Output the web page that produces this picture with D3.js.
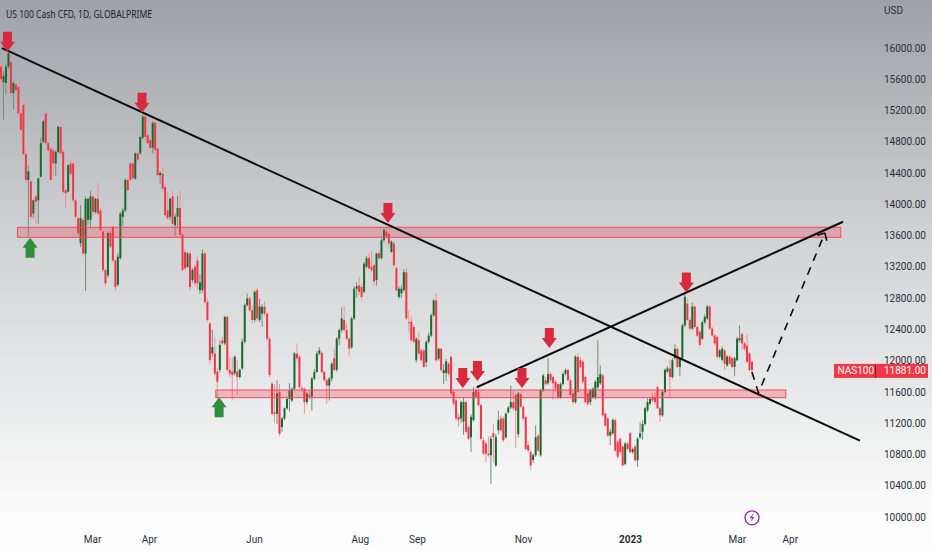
<!DOCTYPE html>
<html>
<head>
<meta charset="utf-8">
<script src="https://cdn.jsdelivr.net/npm/d3@7"></script>
<style>
  html, body { margin: 0; padding: 0; background: #fff; }
  svg { display: block; }
  text { font-family: Roboto, "Liberation Sans", sans-serif; }
</style>
</head>
<body>
<div id="chart"></div>
<script>
// daily candles
var opens = [
  15760,15560,15550,15760,15820,15420,15530,15500,15160,15270,
  14640,14310,14290,13880,14100,14050,14350,14800,15160,14780,
  14710,14690,14520,14670,14990,14670,14180,14160,14520,14520,
  14050,13820,13500,13800,13370,13800,13800,14100,13900,14070,
  13920,13650,13160,13090,13630,13710,13280,12970,13310,13840,
  13920,14310,14520,14520,14330,14650,14650,14850,15120,14880,
  14820,14720,15040,14710,14370,14390,14220,13920,13840,14100,
  13730,13840,13950,13610,13390,13200,13370,13030,13200,13280,
  12900,12900,13370,12750,12475,12090,12090,11860,11880,12260,
  12220,12560,11880,11860,11835,11860,11790,11900,12240,12710,
  12795,12645,12520,12900,12520,12600,12690,12600,12280,11705,
  11340,11320,11600,11150,11260,11390,11510,11490,11640,12090,
  12050,11650,11640,11470,11560,11540,11770,11855,12090,12100,
  11855,11750,11680,11770,12030,11880,12280,12390,12520,12390,
  12280,12170,12540,12920,12960,12940,12880,13200,13310,13200,
  13220,13030,13370,13310,13540,13650,13620,13390,13500,13180,
  12815,12860,12900,13130,12490,12500,12430,12005,12260,12130,
  12130,11980,12240,12320,12580,12770,12025,12150,11840,11840,
  11960,12050,11600,11490,11280,11260,11220,11470,11150,11020,
  11240,11620,11600,11430,10980,10940,10810,10790,11070,10660,
  11110,11260,11260,11020,11340,11400,11470,11560,11060,11570,
  11410,11280,10920,10830,10730,10790,11040,10790,11620,11750,
  11710,11830,11790,11730,11700,11530,11700,11830,11880,11750,
  11580,11470,12050,12005,11985,11790,11580,11470,11530,11530,
  11660,11710,11810,11320,11260,11040,11070,11240,10960,11000,
  10900,10680,10940,11070,10830,10900,10725,11020,11090,11190,
  11365,11450,11530,11530,11660,11390,11300,11600,11860,11900,
  11790,12030,12150,11920,12030,12450,12730,12520,12410,12690,
  12430,12370,12280,12490,12540,12690,12410,12320,12300,12050,
  12010,12130,11940,12050,12030,11920,12005,12260,12340,12220,
  12190,12090,11985
];
var closes = [
  15600,15640,15760,15930,15420,15550,15460,15160,14950,14640,
  14310,14420,13840,14050,14030,14330,14780,15060,14780,14690,
  14310,14520,14670,14990,14650,14160,14140,14500,14390,14050,
  13840,13630,13820,13370,14070,14070,14100,13900,14070,13880,
  13670,13160,12990,13630,13460,13280,12940,13330,13880,13920,
  14310,14180,14310,14330,14650,14570,14860,15120,14860,14780,
  14720,15040,14690,14370,14400,14200,13860,13820,14070,13750,
  13840,13950,13610,13160,13180,13370,12940,13160,12990,12990,
  13000,13370,12750,12520,12005,12175,11835,11730,12200,12220,
  12560,11880,11835,11815,12050,11790,11880,12240,12710,12795,
  12645,12520,12880,12540,12690,12690,12600,12280,11815,11320,
  11320,11580,11065,11260,11390,11510,11620,11640,12090,12030,
  11660,11640,11470,11580,11540,11770,11855,12090,12130,11855,
  11750,11680,11770,11960,11880,12280,12390,12540,12390,12280,
  12155,12540,12920,12950,12880,12815,13240,13310,13180,13160,
  13010,13370,13310,13540,13670,13590,13500,13520,13220,12900,
  12920,12920,13130,12540,12480,12260,12240,12280,12090,12005,
  11920,12240,12320,12580,12770,12005,12150,11880,11880,11990,
  11830,11580,11450,11260,11240,11470,11470,11090,11000,11280,
  11600,11540,11430,11000,10810,10810,10790,11000,11020,11020,
  11240,11110,10980,11320,11400,11470,11390,11360,11580,11410,
  11260,10870,10850,10660,10790,11020,10850,11620,11810,11700,
  11830,11750,11710,11640,11530,11700,11830,11880,11750,11560,
  11470,12050,11600,11920,11730,11470,11450,11620,11640,11730,
  11790,11830,11300,11170,11040,11090,11240,10850,10770,10830,
  10660,10940,10870,10830,10870,10725,11000,11070,11190,11390,
  11470,11510,11490,11470,11390,11300,11600,11880,11900,11790,
  12005,12150,11920,12030,12450,12815,12520,12410,12690,12430,
  12320,12200,12490,12560,12690,12410,12320,12220,12050,12130,
  12150,11960,12050,11960,11920,12030,12280,12290,12220,12150,
  11985,11880,11881
];
var highs = [
  15800,15700,15800,15990,15960,15570,15550,15520,15200,15290,
  14700,14500,14310,14060,14130,14340,14850,15080,15190,14800,
  14730,14720,14690,15000,15000,14700,14200,14510,14570,14540,
  14080,13840,13990,13830,14100,14080,14170,14120,14080,14280,
  13950,13670,13170,13650,13670,13730,13300,13370,13900,13950,
  14330,14330,14540,14540,14660,14670,14870,15150,15140,14900,
  14840,15060,15060,14730,14420,14480,14240,14150,14080,14180,
  13880,14110,14180,13630,13420,13390,13390,13180,13230,13330,
  13110,13420,13400,12790,12500,12390,12300,11900,12260,12300,
  12570,12570,12050,12040,12070,12000,11900,12280,12730,12860,
  12820,12700,12900,12930,12790,12720,12760,12620,12300,11730,
  11700,11750,11700,11280,11400,11530,11710,11660,12110,12220,
  12070,11680,11660,11600,11620,11790,11890,12120,12170,12120,
  11870,11770,11790,11980,12150,12300,12410,12680,12700,12470,
  12300,12560,12950,13000,13070,12970,13260,13340,13370,13400,
  13240,13380,13400,13560,13690,13700,13640,13540,13530,13200,
  12950,12960,13170,13180,12640,12560,12460,12300,12360,12150,
  12150,12260,12360,12600,12790,12860,12170,12170,11960,12020,
  11980,12060,11620,11510,11320,11490,11530,11490,11180,11310,
  11660,11650,11660,11450,11020,10960,11030,11040,11190,11060,
  11360,11300,11280,11340,11420,11680,11610,11580,11600,11590,
  11430,11300,10970,10850,10810,11170,11060,11640,11830,11790,
  12030,11850,11810,11750,11720,11720,11850,11900,11900,11770,
  11600,12070,12100,12050,12010,11810,11600,11640,11660,11750,
  12260,11940,11830,11340,11280,11130,11260,11260,10980,11020,
  10920,10960,10960,11090,10890,10920,11020,11210,11240,11410,
  11520,11530,11580,11590,11680,11410,11620,11900,11930,12010,
  12030,12210,12170,12050,12470,12880,12800,12540,12740,12710,
  12450,12390,12510,12590,12710,12710,12430,12340,12320,12150,
  12180,12150,12070,12070,12050,12050,12300,12450,12360,12240,
  12330,12110,12000
];
var lows = [
  15500,15080,15400,15720,15400,15210,15450,15120,14930,14620,
  14280,13590,13800,13820,13750,13750,14340,14780,14750,14650,
  14300,14350,14360,14640,14620,14130,13950,14150,14370,14030,
  13820,13600,13450,13350,12890,13730,13710,13850,13880,13860,
  13650,13130,12950,13060,13440,13260,12890,12950,13290,13720,
  13900,14160,14290,14320,14310,14540,14630,14830,14820,14750,
  14700,14650,14640,14350,14260,14170,13840,13800,13800,13720,
  13590,13700,13590,13140,13160,13180,12900,13000,12950,12900,
  12850,12870,12720,12500,11950,12050,11810,11520,11850,12200,
  12200,11860,11790,11490,11810,11560,11770,11880,12220,12690,
  12620,12470,12490,12500,12490,12430,12570,12260,11790,11300,
  11200,11190,11030,11090,11240,11370,11350,11470,11620,12000,
  11640,11600,11320,11440,11500,11360,11750,11840,12070,11830,
  11730,11450,11490,11730,11860,11860,12200,12360,12370,12260,
  12050,12150,12520,12810,12840,12790,12860,13180,13160,13130,
  12960,12960,13290,13290,13520,13560,13460,13380,13200,12880,
  12790,12800,12880,12520,12360,12240,12220,11980,12070,11990,
  11910,11920,12220,12300,12560,11980,12000,11860,11700,11740,
  11800,11560,11430,11230,11160,11200,11050,11070,10980,10830,
  11220,11520,11410,10980,10790,10700,10770,10425,10700,10640,
  11060,11090,10960,11000,11320,11380,11360,10880,11020,11390,
  11240,10850,10830,10600,10690,10770,10830,10770,11600,11680,
  11690,11730,11500,11620,11510,11510,11680,11810,11730,11540,
  11440,11450,11590,11900,11700,11450,11420,11430,11510,11500,
  11640,11690,11280,11150,11020,10920,11050,10830,10750,10810,
  10650,10660,10850,10810,10810,10700,10640,11000,10990,11170,
  11340,11430,11470,11440,11380,11220,11280,11580,11840,11530,
  11770,12010,11900,11800,12010,12430,12500,12390,12390,12410,
  12300,12180,12260,12470,12520,12390,12300,12200,12030,12030,
  11990,11880,11920,11940,11900,11800,11990,12230,12140,12130,
  11970,11860,11790
];

// axis labels
var priceTicks = [10000,10400,10800,11200,11600,12000,12400,12800,13200,13600,14000,14400,14800,15200,15600,16000];
var timeLabels = ["Mar","Apr","Jun","Aug","Sep","Nov","2023","Mar","Apr"];
var timeBars = [36.6,59.5,101.7,144.3,167.3,209.9,252.9,295.9,317.2];

// drawings on the chart, as [bar, price]
var fallingLine = [[0.4,15995],[345.4,10976]];
var risingLine = [[191.3,11659],[338.6,13776]];
var dashedPath = [[302,11854],[304.6,11586],[331.3,13632]];
var dashedHeadA = [[331.3,13632],[332.5,13478]];
var dashedHeadB = [[331.3,13632],[327.3,13593]];
var zoneTop = {from: 6.6, to: 337.7, high: 13705, low: 13577};
var zoneBottom = {from: 86.4, to: 315.6, high: 11624, low: 11526};
var downArrows = [[2.6,15950],[56.7,15170],[155.6,13760],[185.7,11650],[191.6,11740],[209.5,11650],[220.5,12160],[275.6,12870]];
var upArrows = [[11.7,13570],[87.7,11530]];
var lastPrice = 11881;

var width = 932, height = 550;
var svg = d3.select("#chart").append("svg")
  .attr("width", width)
  .attr("height", height);

var x = d3.scaleLinear().domain([0, opens.length - 1]).range([1, 752]);
var y = d3.scaleLinear().domain([10000, 16000]).range([517, 47.8]);

// background fades from grey to white
var grad = svg.append("defs").append("linearGradient")
  .attr("id", "bg").attr("x1", 0).attr("y1", 0).attr("x2", 0).attr("y2", 1);
grad.append("stop").attr("offset", "0%").attr("stop-color", "#9ea1a6");
grad.append("stop").attr("offset", "45%").attr("stop-color", "#cfd1d3");
grad.append("stop").attr("offset", "100%").attr("stop-color", "#fbfbfb");
svg.append("rect").attr("width", width).attr("height", 512).attr("fill", "url(#bg)");
svg.append("rect").attr("y", 512).attr("width", width).attr("height", height - 512).attr("fill", "#fdfdfd");

var red = "#f23645", green = "#17692f";

// wicks then bodies
var candles = svg.append("g").selectAll("g").data(opens).enter().append("g");
candles.append("line")
  .attr("x1", function(d, i) { return x(i); })
  .attr("x2", function(d, i) { return x(i); })
  .attr("y1", function(d, i) { return y(highs[i]); })
  .attr("y2", function(d, i) { return y(lows[i]); })
  .attr("stroke", function(d, i) { return closes[i] >= d ? "#6f8f78" : "#f2909a"; })
  .attr("stroke-width", 1);
candles.append("rect")
  .attr("x", function(d, i) { return x(i) - 1; })
  .attr("width", 2)
  .attr("y", function(d, i) { return y(Math.max(d, closes[i])); })
  .attr("height", function(d, i) { return Math.max(1, Math.abs(y(d) - y(closes[i]))); })
  .attr("fill", function(d, i) { return closes[i] >= d ? green : red; });

// support and resistance zones
[zoneTop, zoneBottom].forEach(function(z) {
  svg.append("rect")
    .attr("x", x(z.from))
    .attr("y", y(z.high))
    .attr("width", x(z.to) - x(z.from))
    .attr("height", y(z.low) - y(z.high))
    .attr("fill", "rgba(245,50,70,0.27)")
    .attr("stroke", "#ef4a58")
    .attr("stroke-width", 1);
});

var line = d3.line()
  .x(function(d) { return x(d[0]); })
  .y(function(d) { return y(d[1]); });

[fallingLine, risingLine].forEach(function(pts) {
  svg.append("path").attr("d", line(pts))
    .attr("fill", "none").attr("stroke", "#0a0a0a").attr("stroke-width", 2);
});
[dashedPath, dashedHeadA, dashedHeadB].forEach(function(pts) {
  svg.append("path").attr("d", line(pts))
    .attr("fill", "none").attr("stroke", "#0a0a0a").attr("stroke-width", 1.6)
    .attr("stroke-dasharray", "8,7");
});

// arrows hang from their tip
function arrowShape(dir) {
  var p = d3.path();
  p.moveTo(0, 0);
  p.lineTo(-7.5, -10 * dir);
  p.lineTo(-4.5, -10 * dir);
  p.lineTo(-4.5, -20 * dir);
  p.lineTo(4.5, -20 * dir);
  p.lineTo(4.5, -10 * dir);
  p.lineTo(7.5, -10 * dir);
  p.closePath();
  return p.toString();
}
svg.append("g").selectAll("path").data(downArrows).enter().append("path")
  .attr("d", arrowShape(1))
  .attr("transform", function(d) { return "translate(" + x(d[0]) + "," + y(d[1]) + ")"; })
  .attr("fill", "#d9293f");
svg.append("g").selectAll("path").data(upArrows).enter().append("path")
  .attr("d", arrowShape(-1))
  .attr("transform", function(d) { return "translate(" + x(d[0]) + "," + y(d[1]) + ")"; })
  .attr("fill", "#2f8f3c");

// price axis on the right
var yAxis = d3.axisRight(y).tickValues(priceTicks).tickSize(0).tickPadding(0).tickFormat(d3.format(".2f"));
var yG = svg.append("g").attr("transform", "translate(884,0)").call(yAxis);
yG.select(".domain").remove();
yG.selectAll("text").attr("font-size", 10).attr("fill", "#2a2e39").style("font-family", "Roboto");

// time axis
var xAxis = d3.axisBottom(x).tickValues(timeBars).tickSize(0).tickPadding(0)
  .tickFormat(function(d, i) { return timeLabels[i]; });
var xG = svg.append("g").attr("transform", "translate(0,536)").call(xAxis);
xG.select(".domain").remove();
xG.selectAll("text").attr("font-size", 10).attr("fill", "#2a2e39").style("font-family", "Roboto")
  .attr("font-weight", function(d, i) { return timeLabels[i] === "2023" ? 700 : 400; });

// header
svg.append("text").attr("x", 6).attr("y", 18)
  .attr("font-size", 10.5).attr("fill", "#1e222d").style("font-family", "Noto Sans")
  .attr("textLength", 146).attr("lengthAdjust", "spacingAndGlyphs")
  .text("US 100 Cash CFD, 1D, GLOBALPRIME");
svg.append("text").attr("x", 884).attr("y", 14)
  .attr("font-size", 10).attr("fill", "#2a2e39").text("USD");

// last price tag
var tagY = y(lastPrice) + 1;
svg.append("rect").attr("x", 834).attr("y", tagY - 7).attr("width", 94).attr("height", 14).attr("fill", red);
svg.append("line").attr("x1", 875.5).attr("x2", 875.5).attr("y1", tagY - 7).attr("y2", tagY + 7)
  .attr("stroke", "#8c1c28").attr("stroke-width", 1);
svg.append("text").attr("x", 837.5).attr("y", tagY + 3.5).attr("font-size", 10).attr("fill", "#fff").text("NAS100");
svg.append("text").attr("x", 884).attr("y", tagY + 3.5).attr("font-size", 10).attr("fill", "#fff")
  .text(d3.format(".2f")(lastPrice));

// lightning badge under the last bar
var badge = svg.append("g").attr("transform", "translate(" + x(opens.length - 1) + "," + y(9990) + ")");
badge.append("circle").attr("r", 7).attr("fill", "#fff").attr("stroke", "#9c27b0").attr("stroke-width", 1.3);
badge.append("path").attr("d", "M1.5,-4.5 L-2.5,0.5 L0,0.5 L-1.5,4.5 L2.5,-0.8 L0,-0.8 Z").attr("fill", "#9c27b0");
</script>
</body>
</html>
